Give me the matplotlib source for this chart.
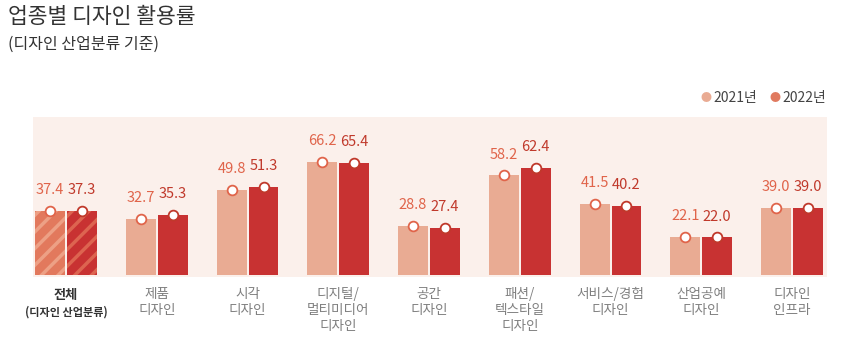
import numpy as np
import matplotlib.pyplot as plt
from matplotlib.transforms import blended_transform_factory

plt.rcParams['font.family'] = ['Noto Sans CJK KR', 'DejaVu Sans']
plt.rcParams['hatch.linewidth'] = 2.5

categories = ['전체', '제품\n디자인', '시각\n디자인', '디지털/\n멀티미디어\n디자인', '공간\n디자인',
              '패션/\n텍스타일\n디자인', '서비스/경험\n디자인', '산업공예\n디자인', '디자인\n인프라']
v2021 = [37.4, 32.7, 49.8, 66.2, 28.8, 58.2, 41.5, 22.1, 39.0]
v2022 = [37.3, 35.3, 51.3, 65.4, 27.4, 62.4, 40.2, 22.0, 39.0]

c21_bar = '#e9ab93'
c22_bar = '#c83232'
c21_txt = '#e0644a'
c22_txt = '#c0392b'

fig = plt.figure(figsize=(8.47, 3.46), dpi=100)
ax = fig.add_axes([0.039, 0.1994, 0.9374, 0.4624])
ax.set_facecolor('#fbf0eb')

x = np.arange(len(categories))
w = 0.33
off = 0.176

b1 = ax.bar(x - off, v2021, w, color=c21_bar, linewidth=0, zorder=2)
b2 = ax.bar(x + off, v2022, w, color=c22_bar, linewidth=0, zorder=2)
# total group is hatched
b1[0].set_facecolor('#e2795d')
b1[0].set_edgecolor('#eda085')
b1[0].set_hatch('//')
b2[0].set_facecolor('#c83232')
b2[0].set_edgecolor('#dd6450')
b2[0].set_hatch('//')

ax.plot(x - off, v2021, 'o', ms=7, mfc='white', mec=c21_txt, mew=1.3, ls='none', zorder=3)
ax.plot(x + off, v2022, 'o', ms=7, mfc='white', mec=c22_txt, mew=1.3, ls='none', zorder=3)

for xi, v in zip(x, v2021):
    ax.annotate(f'{v:.1f}', (xi - off, v), xytext=(0, 15), textcoords='offset points',
                ha='center', va='center', fontsize=10.5, color=c21_txt)
for xi, v in zip(x, v2022):
    ax.annotate(f'{v:.1f}', (xi + off, v), xytext=(0, 15), textcoords='offset points',
                ha='center', va='center', fontsize=10.5, color=c22_txt)

ax.set_xlim(-0.364, 8.386)
ax.set_ylim(-1.17, 92.4)
ax.set_xticks([])
ax.set_yticks([])
for s in ax.spines.values():
    s.set_visible(False)

trans = blended_transform_factory(ax.transData, fig.transFigure)
for xi, lab in zip(x, categories):
    if xi == 0:
        ax.text(xi, 1 - 295 / 346, lab, transform=trans, ha='center', va='center',
                fontsize=9.5, fontweight='bold', color='#333333')
        ax.text(xi, 1 - 312 / 346, '(디자인 산업분류)', transform=trans, ha='center', va='center',
                fontsize=8, fontweight='bold', color='#333333')
    else:
        ax.text(xi, 1 - 287 / 346, lab, transform=trans, ha='center', va='top',
                fontsize=9.8, color='#808080', linespacing=1.2)

fig.text(8 / 847, 1 - 17 / 346, '업종별 디자인 활용률', fontsize=15.5, color='#333333', va='center')
fig.text(8 / 847, 1 - 44 / 346, '(디자인 산업분류 기준)', fontsize=11.5, color='#333333', va='center')

# legend
fig.text(706 / 847, 1 - 98 / 346, '●', fontsize=8, color=c21_bar, va='center', ha='center')
fig.text(713 / 847, 1 - 98 / 346, '2021년', fontsize=10, color='#444444', va='center')
fig.text(775 / 847, 1 - 98 / 346, '●', fontsize=8, color='#e07a5f', va='center', ha='center')
fig.text(782 / 847, 1 - 98 / 346, '2022년', fontsize=10, color='#444444', va='center')

fig.savefig('out.png', dpi=100)
